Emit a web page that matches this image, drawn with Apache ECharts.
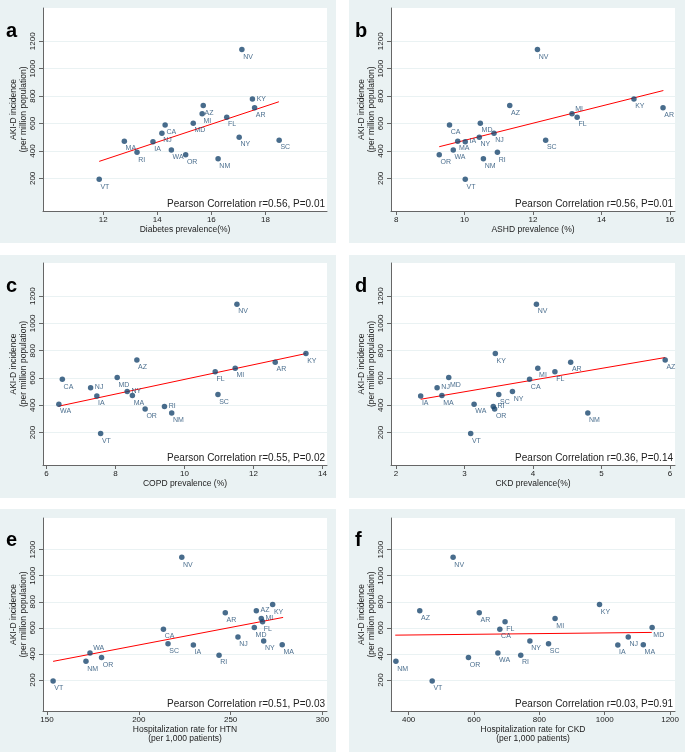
<!DOCTYPE html>
<html>
<head>
<meta charset="utf-8">
<script src="https://cdn.jsdelivr.net/npm/echarts@6/dist/echarts.min.js"></script>
<style>
html, body { margin: 0; padding: 0; background: #fff; }
#main { width: 685px; height: 754px; }
</style>
</head>
<body>
<div id="main"></div>
<script>
// states, same order for every panel
var states = ["VT", "MA", "RI", "IA", "NJ", "CA", "WA", "OR", "MD", "MI", "AZ", "FL", "NM", "NV", "NY", "KY", "AR", "SC"];
// AKI-D incidence (per million population)
var akid = [193, 471, 390, 468, 529, 590, 407, 373, 603, 671, 731, 646, 343, 1141, 500, 780, 715, 478];

// x values per panel
var diabetes = [11.85, 12.78, 13.25, 13.84, 14.17, 14.29, 14.52, 15.05, 15.33, 15.66, 15.70, 16.57, 16.25, 17.13, 17.03, 17.52, 17.60, 18.51];
var ashd = [10.02, 9.80, 10.96, 10.02, 10.86, 9.56, 9.67, 9.26, 10.46, 13.14, 11.32, 13.29, 10.55, 12.13, 10.43, 14.95, 15.80, 12.37];
var copd = [7.57, 8.49, 9.42, 7.46, 7.28, 6.46, 6.36, 8.86, 8.05, 11.47, 8.62, 10.89, 9.63, 11.52, 8.34, 13.52, 12.63, 10.97];
var ckd = [3.09, 2.67, 3.42, 2.36, 2.60, 3.95, 3.14, 3.44, 2.77, 4.07, 5.93, 4.32, 4.80, 4.05, 3.70, 3.45, 4.55, 3.50];
var hospHtn = [153.3, 278.1, 243.7, 229.7, 254.0, 213.4, 173.4, 179.7, 262.9, 266.7, 264.0, 267.4, 171.2, 223.4, 268.0, 272.9, 247.1, 215.9];
var hospCkd = [472, 1118, 743, 1040, 1072, 679, 673, 583, 1145, 848, 434, 695, 361, 536, 771, 984, 616, 828];

// fitted line end points
var fitX = [[11.85, 18.5], [9.26, 15.81], [6.35, 13.52], [2.36, 5.93], [153.3, 278.6], [359, 1144]];
var fitY = [[324, 759], [431, 841], [393, 779], [444, 750], [343, 680], [544, 565]];

var pearson = [
  "Pearson Correlation r=0.56, P=0.01",
  "Pearson Correlation r=0.56, P=0.01",
  "Pearson Correlation r=0.55, P=0.02",
  "Pearson Correlation r=0.36, P=0.14",
  "Pearson Correlation r=0.51, P=0.03",
  "Pearson Correlation r=0.03, P=0.91"
];

var yTicks = [200, 400, 600, 800, 1000, 1200];
var xTicks = [[12, 14, 16, 18], [8, 10, 12, 14, 16], [6, 8, 10, 12, 14], [2, 3, 4, 5, 6], [150, 200, 250, 300], [400, 600, 800, 1000, 1200]];
var xNames = [
  "Diabetes prevalence(%)",
  "ASHD prevalence (%)",
  "COPD prevalence (%)",
  "CKD prevalence(%)",
  "Hospitalization rate for HTN\n(per 1,000 patients)",
  "Hospitalization rate for CKD\n(per 1,000 patients)"
];
var letters = ["a", "b", "c", "d", "e", "f"];
var xValues = [diabetes, ashd, copd, ckd, hospHtn, hospCkd];

// layout of each panel (pixels)
var font = "Liberation Sans, Arial, Helvetica, sans-serif";
var layout = [
  { left: 43, top: 8, h: 203, bx: 0, by: 0, xMin: 9.77, xMax: 20.28, gap: 12 },
  { left: 391, top: 8, h: 203, bx: 349, by: 0, xMin: 7.85, xMax: 16.15, gap: 12 },
  { left: 43, top: 263, h: 202, bx: 0, by: 255, xMin: 5.9, xMax: 14.13, gap: 12 },
  { left: 391, top: 263, h: 202, bx: 349, by: 255, xMin: 1.927, xMax: 6.073, gap: 12 },
  { left: 43, top: 518, h: 193, bx: 0, by: 509, xMin: 147.8, xMax: 302.5, gap: 14 },
  { left: 391, top: 518, h: 193, bx: 349, by: 509, xMin: 346, xMax: 1215, gap: 14 }
];
// labels not placed at the default lower right
var labelSide = [
  { KY: "r" },
  { MI: "ur", IA: "r" },
  { NJ: "r", NY: "r", RI: "r" },
  { NJ: "r", RI: "r" },
  { WA: "ur", MI: "r", AZ: "r" },
  {}
];
var labelPos = { d: [4, 10], r: [7, 2.5], ur: [6, -2] };

var navy = "#1a476f";
var plain = function (v) { return String(v); };
var grids = [], xAxes = [], yAxes = [], series = [], graphics = [];

layout.forEach(function (p, i) {
  graphics.push({
    type: "rect", z: -1,
    shape: { x: p.bx, y: p.by, width: 336, height: 243 },
    style: { fill: "#eaf2f3" }
  });
  graphics.push({
    type: "text", z: 100, x: p.bx + 6, y: p.by + 21,
    style: { text: letters[i], font: "bold 20px " + font, fill: "#000", verticalAlign: "alphabetic" }
  });
  graphics.push({
    type: "text", z: 100, x: p.left + 282, y: p.top + p.h - 7,
    style: { text: pearson[i], font: "10px " + font, fill: "#222", align: "right", verticalAlign: "middle" }
  });

  grids.push({ left: p.left, top: p.top, width: 284, height: p.h, show: true, backgroundColor: "#fff", borderWidth: 0 });

  xAxes.push({
    gridIndex: i, type: "value", min: p.xMin, max: p.xMax,
    name: xNames[i], nameLocation: "middle", nameGap: p.gap,
    nameTextStyle: { fontFamily: font, fontSize: 8.5, color: "#222", lineHeight: 9 },
    axisLine: { onZero: false, lineStyle: { color: "#666", width: 1 } },
    axisTick: { customValues: xTicks[i], length: 4, lineStyle: { color: "#666" } },
    axisLabel: { customValues: xTicks[i], formatter: plain, margin: 5, fontSize: 8, color: "#222", fontFamily: font },
    splitLine: { show: false }
  });

  yAxes.push({
    gridIndex: i, type: "value", min: -38, max: 1443,
    name: "AKI-D incidence\n(per million population)", nameLocation: "middle", nameRotate: 90, nameGap: 13,
    nameTextStyle: { fontFamily: font, fontSize: 8.5, color: "#222", lineHeight: 9.5 },
    axisLine: { show: true, lineStyle: { color: "#666", width: 1 } },
    axisTick: { show: true, customValues: yTicks, length: 4, lineStyle: { color: "#666" } },
    axisLabel: { customValues: yTicks, formatter: plain, rotate: 90, margin: 6, fontSize: 8, color: "#222", fontFamily: font },
    splitLine: { show: true, lineStyle: { color: "#eaf2f3", width: 1 } }
  });

  series.push({
    type: "line", xAxisIndex: i, yAxisIndex: i, silent: true, z: 2,
    symbol: "none", lineStyle: { color: "#ff0000", width: 1 },
    data: [[fitX[i][0], fitY[i][0]], [fitX[i][1], fitY[i][1]]]
  });

  series.push({
    type: "scatter", xAxisIndex: i, yAxisIndex: i, z: 3,
    symbolSize: 5.5, itemStyle: { color: navy },
    label: {
      show: true, formatter: "{b}", position: labelPos.d, align: "left", verticalAlign: "middle",
      fontFamily: font, fontSize: 7, color: navy
    },
    data: states.map(function (s, k) {
      var item = { name: s, value: [xValues[i][k], akid[k]] };
      var side = labelSide[i][s];
      if (side) item.label = { position: labelPos[side] };
      return item;
    })
  });
});

var chart = echarts.init(document.getElementById("main"));
chart.setOption({
  backgroundColor: "#fff",
  animation: false,
  grid: grids,
  xAxis: xAxes,
  yAxis: yAxes,
  series: series,
  graphic: graphics
});
</script>
</body>
</html>
